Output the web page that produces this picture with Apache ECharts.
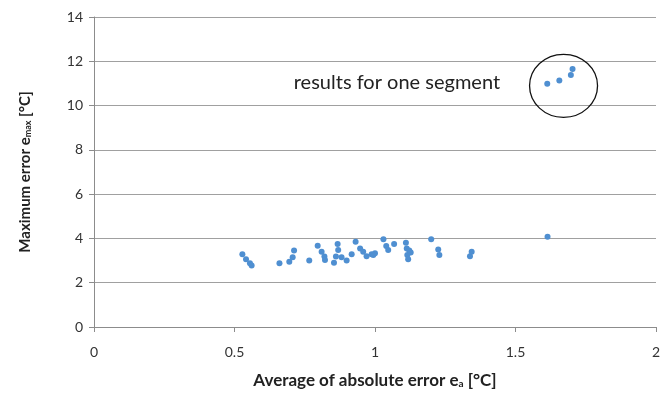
<!DOCTYPE html>
<html>
<head>
<meta charset="utf-8">
<script src="https://cdn.jsdelivr.net/npm/echarts@6/dist/echarts.min.js"></script>
<style>
html,body{margin:0;padding:0;background:#fff;}
#chart{width:664px;height:395px;}
</style>
</head>
<body>
<div id="chart"></div>
<script>
// average absolute error e_a
var eaValues = [0.528,0.541,0.555,0.561,0.66,0.695,0.707,0.712,0.766,0.796,0.81,0.82,0.822,
	0.867,0.869,0.861,0.854,0.881,0.899,0.917,0.931,0.947,0.958,0.97,0.988,1.0,0.994,
	1.03,1.04,1.047,1.068,1.11,1.113,1.122,1.115,1.118,1.127,1.2,1.225,1.229,1.338,1.344,1.614,
	1.613,1.656,1.697,1.703];
// maximum error e_max
var emaxValues = [3.28,3.06,2.88,2.78,2.88,2.95,3.15,3.45,3.0,3.67,3.4,3.18,3.03,
	3.75,3.48,3.18,2.9,3.15,3.0,3.28,3.85,3.55,3.4,3.2,3.28,3.33,3.25,
	3.96,3.66,3.48,3.75,3.81,3.55,3.45,3.25,3.06,3.36,3.96,3.5,3.25,3.2,3.4,4.08,
	10.98,11.13,11.38,11.65];
var xTicks = [0,0.5,1,1.5,2];
var yTicks = [0,2,4,6,8,10,12,14];

function initChart(){
	let myChart = echarts.init(document.getElementById('chart'));
	let points = [];
	for (var i = 0; i < eaValues.length; i++) {
		points.push([eaValues[i], emaxValues[i]]);
	}
	let font = 'Lato, "Open Sans", sans-serif';

	let option = {
		animation: false,
		grid: {left: 94, right: 8, top: 17, bottom: 68},
		xAxis: {
			type: 'value',
			min: xTicks[0],
			max: xTicks[xTicks.length-1],
			interval: 0.5,
			name: '{b|Average of absolute error e}{s|a}{b| [°C]}',
			nameLocation: 'middle',
			nameGap: 45,
			nameTextStyle: {
				rich: {
					b: {fontFamily: font, fontWeight: 'bold', fontSize: 17, color: '#222'},
					s: {fontFamily: font, fontWeight: 'bold', fontSize: 10, color: '#222', verticalAlign: 'bottom', padding: [7,0,0,0]}
				}
			},
			axisLine: {show: true, lineStyle: {color: '#8c8c8c', width: 1}},
			axisTick: {show: true, length: 5, lineStyle: {color: '#8c8c8c'}},
			axisLabel: {margin: 18, fontFamily: font, fontSize: 14, color: '#333'},
			splitLine: {show: false}
		},
		yAxis: {
			type: 'value',
			min: yTicks[0],
			max: yTicks[yTicks.length-1],
			interval: 2,
			name: '{b|Maximum error e}{s|max}{b| [°C]}',
			nameLocation: 'middle',
			nameGap: 61,
			nameTextStyle: {
				rich: {
					b: {fontFamily: font, fontWeight: 'bold', fontSize: 15, color: '#222'},
					s: {fontFamily: font, fontWeight: 'bold', fontSize: 9, color: '#222', verticalAlign: 'bottom', padding: [6,0,0,0]}
				}
			},
			axisLine: {show: true, lineStyle: {color: '#8c8c8c', width: 1}},
			axisTick: {show: true, inside: false, length: 5, lineStyle: {color: '#8c8c8c'}},
			axisLabel: {margin: 11, fontFamily: font, fontSize: 14, color: '#333'},
			splitLine: {show: true, lineStyle: {color: '#a0a0a0', width: 1}}
		},
		series: [{
			type: 'scatter',
			data: points,
			symbolSize: 6,
			itemStyle: {color: '#4f8fd1', opacity: 1}
		}]
	};
	myChart.setOption(option);

	// annotation: circle round the segment results and its text
	let c = myChart.convertToPixel({gridIndex: 0}, [1.671, 10.89]);
	let t = myChart.convertToPixel({gridIndex: 0}, [1.078, 11.02]);
	myChart.setOption({
		graphic: [
			{
				type: 'ellipse',
				shape: {cx: c[0], cy: c[1], rx: 34, ry: 31.5},
				style: {fill: 'none', stroke: '#111', lineWidth: 1.3},
				z: 10
			},
			{
				type: 'text',
				x: t[0], y: t[1],
				style: {text: 'results for one segment', fontFamily: font, fontSize: 20, fill: '#222', textAlign: 'center', textVerticalAlign: 'middle'},
				z: 10
			}
		]
	});
	return myChart;
}
initChart();
</script>
</body>
</html>
